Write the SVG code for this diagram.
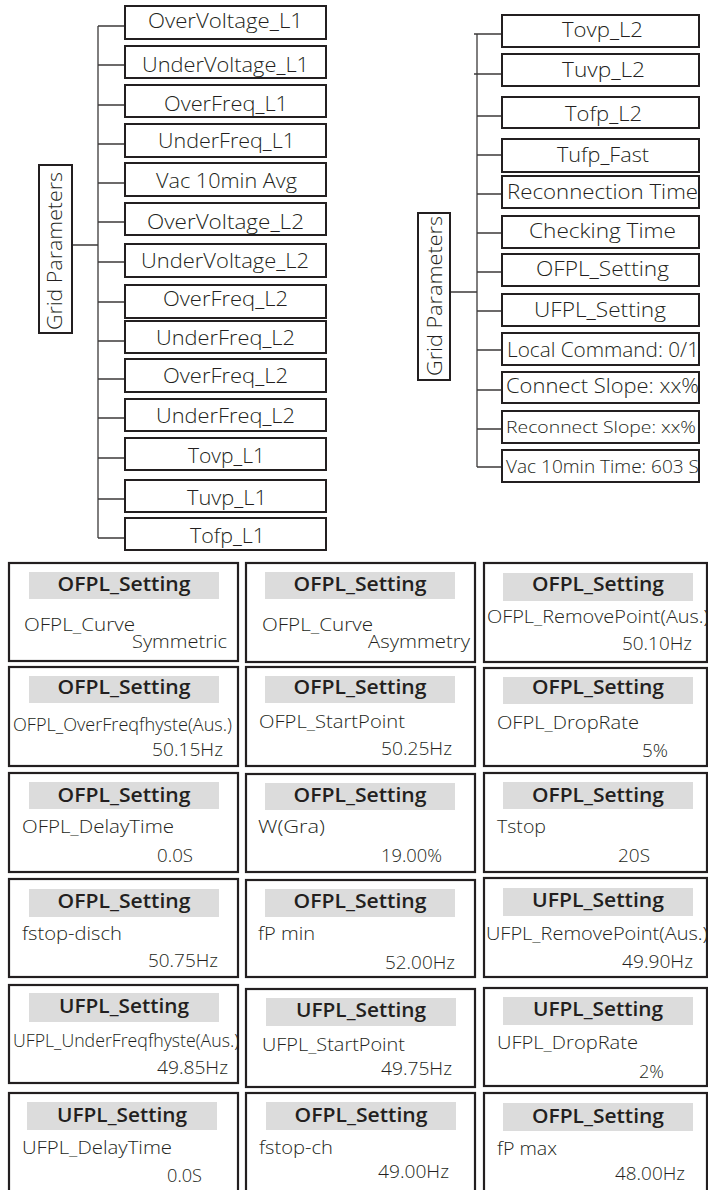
<svg xmlns="http://www.w3.org/2000/svg" width="708" height="1190" viewBox="0 0 708 1190">
<style>
.bg{fill:#ffffff}
.tb{fill:#ffffff;stroke:#231f20;stroke-width:2}
.cb{fill:#ffffff;stroke:#231f20;stroke-width:2.2}
.hd{fill:#dcdcdc}
.ln{fill:none;stroke:#3c3a3a;stroke-width:1.3}
.t{font-family:"Open Sans","Noto Sans","Liberation Sans",sans-serif;font-weight:300;fill:#231f20}
.tt{font-size:20px;text-anchor:middle}
.ht{font-family:"Open Sans","Noto Sans","Liberation Sans",sans-serif;font-weight:600;font-size:19px;fill:#231f20;text-anchor:middle}
.lb{font-size:18px}
.vr{font-size:18px;text-anchor:end}
</style>
<rect class="bg" x="0" y="0" width="708" height="1190"/>

<g id="connectors">
<path class="ln" d="M71,245H98M98,26V538M98,26H125M98,65H125M98,105H125M98,144H125M98,183H125M98,222H125M98,262H125M98,302H125M98,341H125M98,379H125M98,418H125M98,458H125M98,499H125M98,538H125"/>
<path class="ln" d="M450,292H477M477,34V467M474,34H502M474,74H502M477,116H502M477,155H502M477,194H502M477,233H502M477,272H502M477,311H502M477,350H502M477,390H502M477,429H502M477,467H502"/>
</g>

<g id="gp-left"><rect class="tb" x="39" y="165" width="33" height="168"/><text class="t" transform="translate(62,251) rotate(-90)" font-size="20" text-anchor="middle" textLength="158" lengthAdjust="spacingAndGlyphs">Grid Parameters</text></g>
<g id="gp-right"><rect class="tb" x="418" y="213" width="32" height="167"/><text class="t" transform="translate(442,296) rotate(-90)" font-size="20" text-anchor="middle" textLength="160" lengthAdjust="spacingAndGlyphs">Grid Parameters</text></g>

<g id="l1"><rect class="tb" x="125" y="6" width="201" height="33"/><text class="t tt" x="225.5" y="28" textLength="155" lengthAdjust="spacingAndGlyphs">OverVoltage_L1</text></g>
<g id="l2"><rect class="tb" x="125" y="46" width="201" height="32"/><text class="t tt" x="225.5" y="72" textLength="167" lengthAdjust="spacingAndGlyphs">UnderVoltage_L1</text></g>
<g id="l3"><rect class="tb" x="125" y="85" width="201" height="32"/><text class="t tt" x="226" y="111" textLength="124" lengthAdjust="spacingAndGlyphs">OverFreq_L1</text></g>
<g id="l4"><rect class="tb" x="125" y="124" width="201" height="33"/><text class="t tt" x="226.5" y="148" textLength="137" lengthAdjust="spacingAndGlyphs">UnderFreq_L1</text></g>
<g id="l5"><rect class="tb" x="125" y="163" width="201" height="33"/><text class="t tt" x="226.5" y="188" textLength="141" lengthAdjust="spacingAndGlyphs">Vac 10min Avg</text></g>
<g id="l6"><rect class="tb" x="125" y="203" width="201" height="32"/><text class="t tt" x="225.5" y="229" textLength="157" lengthAdjust="spacingAndGlyphs">OverVoltage_L2</text></g>
<g id="l7"><rect class="tb" x="125" y="244" width="201" height="33"/><text class="t tt" x="225" y="268" textLength="168" lengthAdjust="spacingAndGlyphs">UnderVoltage_L2</text></g>
<g id="l8"><rect class="tb" x="125" y="285" width="201" height="33"/><text class="t tt" x="225.5" y="306" textLength="125" lengthAdjust="spacingAndGlyphs">OverFreq_L2</text></g>
<g id="l9"><rect class="tb" x="125" y="321" width="201" height="32"/><text class="t tt" x="225.5" y="345" textLength="139" lengthAdjust="spacingAndGlyphs">UnderFreq_L2</text></g>
<g id="l10"><rect class="tb" x="125" y="359" width="201" height="33"/><text class="t tt" x="225.5" y="383" textLength="125" lengthAdjust="spacingAndGlyphs">OverFreq_L2</text></g>
<g id="l11"><rect class="tb" x="125" y="399" width="201" height="32"/><text class="t tt" x="225.5" y="423" textLength="139" lengthAdjust="spacingAndGlyphs">UnderFreq_L2</text></g>
<g id="l12"><rect class="tb" x="125" y="438" width="201" height="32"/><text class="t tt" x="226.5" y="463" textLength="77" lengthAdjust="spacingAndGlyphs">Tovp_L1</text></g>
<g id="l13"><rect class="tb" x="125" y="480" width="201" height="32"/><text class="t tt" x="227" y="505" textLength="80" lengthAdjust="spacingAndGlyphs">Tuvp_L1</text></g>
<g id="l14"><rect class="tb" x="125" y="518" width="201" height="32"/><text class="t tt" x="227.5" y="543" textLength="75" lengthAdjust="spacingAndGlyphs">Tofp_L1</text></g>

<g id="r1"><rect class="tb" x="502" y="15" width="197" height="32"/><text class="t tt" x="602.5" y="37" textLength="81" lengthAdjust="spacingAndGlyphs">Tovp_L2</text></g>
<g id="r2"><rect class="tb" x="502" y="54" width="197" height="32"/><text class="t tt" x="603.5" y="77" textLength="83" lengthAdjust="spacingAndGlyphs">Tuvp_L2</text></g>
<g id="r3"><rect class="tb" x="502" y="97" width="197" height="31"/><text class="t tt" x="603.5" y="121" textLength="77" lengthAdjust="spacingAndGlyphs">Tofp_L2</text></g>
<g id="r4"><rect class="tb" x="502" y="139" width="197" height="33"/><text class="t tt" x="603" y="162" textLength="92" lengthAdjust="spacingAndGlyphs">Tufp_Fast</text></g>
<g id="r5"><rect class="tb" x="502" y="176" width="197" height="32"/><text class="t tt" x="602.5" y="199" textLength="191" lengthAdjust="spacingAndGlyphs">Reconnection Time</text></g>
<g id="r6"><rect class="tb" x="502" y="216" width="197" height="32"/><text class="t tt" x="602.5" y="238" textLength="147" lengthAdjust="spacingAndGlyphs">Checking Time</text></g>
<g id="r7"><rect class="tb" x="502" y="254" width="197" height="32"/><text class="t tt" x="602.5" y="276" textLength="133" lengthAdjust="spacingAndGlyphs">OFPL_Setting</text></g>
<g id="r8"><rect class="tb" x="502" y="294" width="197" height="32"/><text class="t tt" x="600" y="317" textLength="132" lengthAdjust="spacingAndGlyphs">UFPL_Setting</text></g>
<g id="r9"><rect class="tb" x="502" y="333" width="197" height="32"/><text class="t tt" x="603" y="357" textLength="192" lengthAdjust="spacingAndGlyphs">Local Command: 0/1</text></g>
<g id="r10"><rect class="tb" x="502" y="372" width="197" height="31"/><text class="t tt" x="602.5" y="393" textLength="193" lengthAdjust="spacingAndGlyphs">Connect Slope: xx%</text></g>
<g id="r11"><rect class="tb" x="502" y="411" width="197" height="32"/><text class="t" x="506" y="433" font-size="17" textLength="190" lengthAdjust="spacingAndGlyphs">Reconnect Slope: xx%</text></g>
<g id="r12"><rect class="tb" x="502" y="450" width="197" height="32"/><text class="t" x="506" y="473" font-size="18" textLength="193" lengthAdjust="spacingAndGlyphs">Vac 10min Time: 603 S</text></g>

<!-- grid row 1 -->
<g id="c11"><rect class="cb" x="9" y="563" width="229" height="98"/><rect class="hd" x="29" y="572" width="190" height="27"/><text class="ht" x="124" y="591" textLength="133" lengthAdjust="spacingAndGlyphs">OFPL_Setting</text><text class="t lb" x="24" y="631" textLength="111" lengthAdjust="spacingAndGlyphs">OFPL_Curve</text><text class="t vr" x="227" y="648" textLength="95" lengthAdjust="spacingAndGlyphs">Symmetric</text></g>
<g id="c12"><rect class="cb" x="246" y="563" width="229" height="99"/><rect class="hd" x="265" y="572" width="190" height="27"/><text class="ht" x="360" y="591" textLength="133" lengthAdjust="spacingAndGlyphs">OFPL_Setting</text><text class="t lb" x="262" y="631" textLength="111" lengthAdjust="spacingAndGlyphs">OFPL_Curve</text><text class="t vr" x="470" y="648" textLength="102" lengthAdjust="spacingAndGlyphs">Asymmetry</text></g>
<g id="c13"><rect class="cb" x="484" y="563" width="223" height="99"/><rect class="hd" x="503" y="573" width="190" height="28"/><text class="ht" x="598" y="591" textLength="132" lengthAdjust="spacingAndGlyphs">OFPL_Setting</text><text class="t lb" x="487" y="623" textLength="222" lengthAdjust="spacingAndGlyphs">OFPL_RemovePoint(Aus.)</text><text class="t vr" x="692" y="650" textLength="70" lengthAdjust="spacingAndGlyphs">50.10Hz</text></g>
<!-- row 2 -->
<g id="c21"><rect class="cb" x="9" y="667" width="229" height="99"/><rect class="hd" x="29" y="676" width="190" height="27"/><text class="ht" x="124" y="694" textLength="133" lengthAdjust="spacingAndGlyphs">OFPL_Setting</text><text class="t lb" x="13" y="731" textLength="219" lengthAdjust="spacingAndGlyphs">OFPL_OverFreqfhyste(Aus.)</text><text class="t vr" x="223" y="756" textLength="71" lengthAdjust="spacingAndGlyphs">50.15Hz</text></g>
<g id="c22"><rect class="cb" x="246" y="667" width="229" height="99"/><rect class="hd" x="265" y="676" width="190" height="27"/><text class="ht" x="360" y="694" textLength="133" lengthAdjust="spacingAndGlyphs">OFPL_Setting</text><text class="t lb" x="259" y="728" textLength="146" lengthAdjust="spacingAndGlyphs">OFPL_StartPoint</text><text class="t vr" x="452" y="755" textLength="71" lengthAdjust="spacingAndGlyphs">50.25Hz</text></g>
<g id="c23"><rect class="cb" x="484" y="668" width="223" height="98"/><rect class="hd" x="503" y="677" width="190" height="27"/><text class="ht" x="598" y="694" textLength="132" lengthAdjust="spacingAndGlyphs">OFPL_Setting</text><text class="t lb" x="497" y="729" textLength="142" lengthAdjust="spacingAndGlyphs">OFPL_DropRate</text><text class="t vr" x="668" y="757" textLength="26" lengthAdjust="spacingAndGlyphs">5%</text></g>
<!-- row 3 -->
<g id="c31"><rect class="cb" x="9" y="773" width="229" height="99"/><rect class="hd" x="29" y="782" width="190" height="27"/><text class="ht" x="124" y="802" textLength="133" lengthAdjust="spacingAndGlyphs">OFPL_Setting</text><text class="t lb" x="22" y="833" textLength="152" lengthAdjust="spacingAndGlyphs">OFPL_DelayTime</text><text class="t vr" x="193" y="862" textLength="36" lengthAdjust="spacingAndGlyphs">0.0S</text></g>
<g id="c32"><rect class="cb" x="246" y="774" width="229" height="98"/><rect class="hd" x="265" y="783" width="190" height="27"/><text class="ht" x="360" y="802" textLength="133" lengthAdjust="spacingAndGlyphs">OFPL_Setting</text><text class="t lb" x="258" y="833" textLength="67" lengthAdjust="spacingAndGlyphs">W(Gra)</text><text class="t vr" x="442" y="862" textLength="61" lengthAdjust="spacingAndGlyphs">19.00%</text></g>
<g id="c33"><rect class="cb" x="484" y="773" width="223" height="99"/><rect class="hd" x="503" y="782" width="190" height="27"/><text class="ht" x="598" y="802" textLength="132" lengthAdjust="spacingAndGlyphs">OFPL_Setting</text><text class="t lb" x="497" y="833" textLength="49" lengthAdjust="spacingAndGlyphs">Tstop</text><text class="t vr" x="650" y="862" textLength="32" lengthAdjust="spacingAndGlyphs">20S</text></g>
<!-- row 4 -->
<g id="c41"><rect class="cb" x="9" y="879" width="229" height="98"/><rect class="hd" x="29" y="889" width="190" height="28"/><text class="ht" x="124" y="908" textLength="133" lengthAdjust="spacingAndGlyphs">OFPL_Setting</text><text class="t lb" x="22" y="940" textLength="100" lengthAdjust="spacingAndGlyphs">fstop-disch</text><text class="t vr" x="218" y="967" textLength="70" lengthAdjust="spacingAndGlyphs">50.75Hz</text></g>
<g id="c42"><rect class="cb" x="246" y="880" width="229" height="97"/><rect class="hd" x="265" y="889" width="190" height="28"/><text class="ht" x="360" y="908" textLength="133" lengthAdjust="spacingAndGlyphs">OFPL_Setting</text><text class="t lb" x="258" y="940" textLength="57" lengthAdjust="spacingAndGlyphs">fP min</text><text class="t vr" x="455" y="969" textLength="70" lengthAdjust="spacingAndGlyphs">52.00Hz</text></g>
<g id="c43"><rect class="cb" x="484" y="878" width="223" height="99"/><rect class="hd" x="503" y="888" width="190" height="28"/><text class="ht" x="598" y="907" textLength="132" lengthAdjust="spacingAndGlyphs">UFPL_Setting</text><text class="t lb" x="486" y="940" textLength="222" lengthAdjust="spacingAndGlyphs">UFPL_RemovePoint(Aus.)</text><text class="t vr" x="693" y="968" textLength="71" lengthAdjust="spacingAndGlyphs">49.90Hz</text></g>
<!-- row 5 -->
<g id="c51"><rect class="cb" x="9" y="985" width="229" height="98"/><rect class="hd" x="29" y="993" width="190" height="29"/><text class="ht" x="124" y="1013" textLength="130" lengthAdjust="spacingAndGlyphs">UFPL_Setting</text><text class="t lb" x="13" y="1047" textLength="226" lengthAdjust="spacingAndGlyphs">UFPL_UnderFreqfhyste(Aus.)</text><text class="t vr" x="228" y="1074" textLength="71" lengthAdjust="spacingAndGlyphs">49.85Hz</text></g>
<g id="c52"><rect class="cb" x="246" y="989" width="229" height="98"/><rect class="hd" x="266" y="998" width="190" height="28"/><text class="ht" x="361" y="1017" textLength="130" lengthAdjust="spacingAndGlyphs">UFPL_Setting</text><text class="t lb" x="262" y="1051" textLength="143" lengthAdjust="spacingAndGlyphs">UFPL_StartPoint</text><text class="t vr" x="452" y="1075" textLength="71" lengthAdjust="spacingAndGlyphs">49.75Hz</text></g>
<g id="c53"><rect class="cb" x="484" y="988" width="223" height="98"/><rect class="hd" x="503" y="997" width="190" height="28"/><text class="ht" x="598" y="1016" textLength="130" lengthAdjust="spacingAndGlyphs">UFPL_Setting</text><text class="t lb" x="497" y="1049" textLength="141" lengthAdjust="spacingAndGlyphs">UFPL_DropRate</text><text class="t vr" x="664" y="1078" textLength="25" lengthAdjust="spacingAndGlyphs">2%</text></g>
<!-- row 6 -->
<g id="c61"><rect class="cb" x="9" y="1093" width="229" height="100"/><rect class="hd" x="27" y="1102" width="190" height="28"/><text class="ht" x="122" y="1122" textLength="130" lengthAdjust="spacingAndGlyphs">UFPL_Setting</text><text class="t lb" x="22" y="1154" textLength="150" lengthAdjust="spacingAndGlyphs">UFPL_DelayTime</text><text class="t vr" x="202" y="1182" textLength="35" lengthAdjust="spacingAndGlyphs">0.0S</text></g>
<g id="c62"><rect class="cb" x="246" y="1093" width="229" height="100"/><rect class="hd" x="266" y="1102" width="190" height="28"/><text class="ht" x="361" y="1122" textLength="133" lengthAdjust="spacingAndGlyphs">OFPL_Setting</text><text class="t lb" x="259" y="1154" textLength="74" lengthAdjust="spacingAndGlyphs">fstop-ch</text><text class="t vr" x="449" y="1178" textLength="71" lengthAdjust="spacingAndGlyphs">49.00Hz</text></g>
<g id="c63"><rect class="cb" x="484" y="1093" width="223" height="100"/><rect class="hd" x="503" y="1103" width="190" height="28"/><text class="ht" x="598" y="1123" textLength="132" lengthAdjust="spacingAndGlyphs">OFPL_Setting</text><text class="t lb" x="497" y="1155" textLength="60" lengthAdjust="spacingAndGlyphs">fP max</text><text class="t vr" x="685" y="1180" textLength="70" lengthAdjust="spacingAndGlyphs">48.00Hz</text></g>
</svg>
